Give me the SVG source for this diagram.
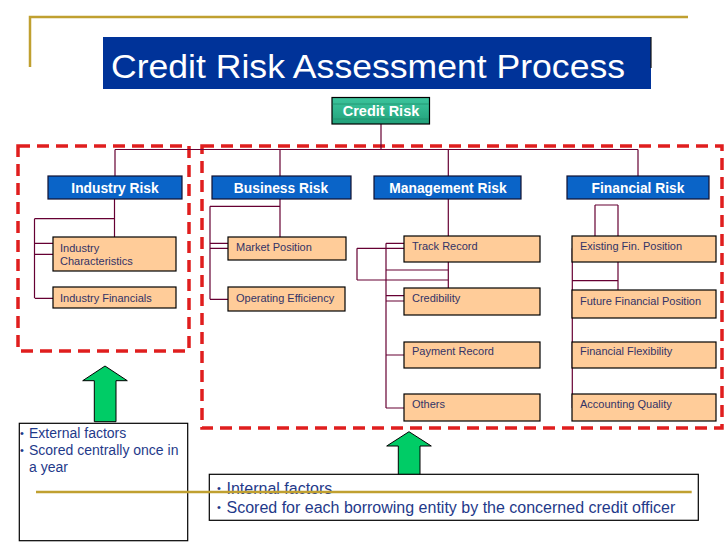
<svg xmlns="http://www.w3.org/2000/svg" width="728" height="546" viewBox="0 0 728 546">
<defs>
<linearGradient id="teal" x1="0" y1="0" x2="0" y2="1">
<stop offset="0" stop-color="#3CC49C"/>
<stop offset="0.5" stop-color="#2FB48C"/>
<stop offset="1" stop-color="#22A07A"/>
</linearGradient>
<style>
.hdr{fill:#0A64C8;stroke:#101030;stroke-width:1.2}
.hdrt{font-family:"Liberation Sans",Arial,sans-serif;font-weight:bold;font-size:13.8px;fill:#FFFFFF;text-anchor:middle}
.sub{fill:#FFCC99;stroke:#000000;stroke-width:1.2}
.subt{font-family:"Liberation Sans",Arial,sans-serif;font-size:11px;fill:#333366}
.con{fill:none;stroke:#660033;stroke-width:1.2}
.dash{fill:none;stroke:#E01E1E;stroke-width:3.5;stroke-dasharray:12 7}
.gold{stroke:#C0A030;stroke-width:2.5;fill:none}
.arrow{fill:#00CC66;stroke:#000000;stroke-width:1}
.note{fill:#FFFFFF;stroke:#000000;stroke-width:1.2}
.nt{font-family:"Liberation Sans",Arial,sans-serif;fill:#1F3A8A}
</style>
</defs>
<rect width="728" height="546" fill="#FFFFFF"/>

<g id="frame">
<path class="gold" d="M30,67 V17 H688"/>
</g>

<g id="title">
<rect x="103" y="37" width="548" height="52" fill="#003399"/>
<line x1="651" y1="37" x2="651" y2="68" stroke="#111111" stroke-width="1.2"/>
<text x="111" y="78" font-family="'Liberation Sans',Arial,sans-serif" font-size="33px" fill="#FFFFFF" textLength="514" lengthAdjust="spacingAndGlyphs">Credit Risk Assessment Process</text>
</g>

<g id="groups">
<rect class="dash" x="18" y="146" width="171" height="205"/>
<rect class="dash" x="202" y="146" width="520" height="282"/>
</g>

<g id="connectors">
<path class="con" d="M381,124 V149.5 M115,149.5 H638 M115,149.5 V176 M280,149.5 V176 M448.3,149.5 V176 M638,149.5 V176"/>
<path class="con" d="M114.5,199 V243.3 M34.5,218.7 H114.5 M35,243.3 H114.5 M34.5,218.7 V298.3 M34.5,254.3 H53 M35,298.3 H53"/>
<path class="con" d="M280,199 V243.3 M210,206.3 H280 M210,206.3 V299.3 M209.5,243.3 H280 M209.5,248.3 H228 M210,299.3 H228"/>
<path class="con" d="M448.3,199 V295.7 M386,243.3 H448.3 M357,248.3 H404 M357,248.3 V280 M357,280 H448.3 M386,270 H448.3 M386,295.7 H448.3 M386,301 H404 M386,243.3 V408 M386,355 H404 M386,408 H404"/>
<path class="con" d="M595,205 H618 M595,205 V253 M618,205 V306 M572,248.3 H595 M572,253 H618 M572,280.7 H618 M572,306 H618 M572.3,248.3 V408"/>
</g>

<g id="credit-risk">
<rect x="332" y="97.5" width="97.5" height="26.5" fill="url(#teal)" stroke="#000000" stroke-width="1.2"/>
<line x1="332.6" y1="104" x2="428.9" y2="104" stroke="#1E8A68" stroke-width="0.7"/>
<line x1="332.6" y1="119" x2="428.9" y2="119" stroke="#1E8A68" stroke-width="0.7"/>
<text x="381" y="116" font-family="'Liberation Sans',Arial,sans-serif" font-weight="bold" font-size="14.5px" fill="#FFFFFF" text-anchor="middle">Credit Risk</text>
</g>

<g id="industry-risk"><rect class="hdr" x="48" y="176" width="134" height="23"/><text class="hdrt" x="115" y="192.5">Industry Risk</text></g>
<g id="business-risk"><rect class="hdr" x="212" y="176" width="139" height="23"/><text class="hdrt" x="281" y="192.5">Business Risk</text></g>
<g id="management-risk"><rect class="hdr" x="374" y="176" width="147" height="23"/><text class="hdrt" x="448" y="192.5">Management Risk</text></g>
<g id="financial-risk"><rect class="hdr" x="567" y="176" width="142" height="23"/><text class="hdrt" x="638" y="192.5">Financial Risk</text></g>

<g id="industry-characteristics"><rect class="sub" x="53" y="237" width="123" height="34"/><text class="subt" x="60" y="252">Industry</text><text class="subt" x="60" y="264.5">Characteristics</text></g>
<g id="industry-financials"><rect class="sub" x="53" y="287" width="123" height="21"/><text class="subt" x="60" y="302">Industry Financials</text></g>

<g id="market-position"><rect class="sub" x="228" y="237" width="118" height="23"/><text class="subt" x="236" y="250.5">Market Position</text></g>
<g id="operating-efficiency"><rect class="sub" x="228" y="287" width="117" height="24"/><text class="subt" x="236" y="302">Operating Efficiency</text></g>

<g id="track-record"><rect class="sub" x="404" y="236" width="136" height="26"/><text class="subt" x="412" y="250">Track Record</text></g>
<g id="credibility"><rect class="sub" x="404" y="288" width="136" height="27"/><text class="subt" x="412" y="302">Credibility</text></g>
<g id="payment-record"><rect class="sub" x="404" y="342" width="136" height="26"/><text class="subt" x="412" y="355">Payment Record</text></g>
<g id="others"><rect class="sub" x="404" y="394" width="136" height="27"/><text class="subt" x="412" y="408">Others</text></g>

<g id="existing-fin-position"><rect class="sub" x="572" y="236" width="144" height="26"/><text class="subt" x="580" y="250">Existing Fin. Position</text></g>
<g id="future-financial-position"><rect class="sub" x="572" y="290" width="144" height="28"/><text class="subt" x="580" y="305">Future Financial Position</text></g>
<g id="financial-flexibility"><rect class="sub" x="572" y="342" width="144" height="26"/><text class="subt" x="580" y="355">Financial Flexibility</text></g>
<g id="accounting-quality"><rect class="sub" x="572" y="394" width="144" height="27"/><text class="subt" x="580" y="408">Accounting Quality</text></g>

<g id="arrow-external">
<polygon class="arrow" points="105,366 127.3,380.7 116,380.7 116,421.7 94.3,421.7 94.3,380.7 82.7,380.7"/>
</g>
<g id="arrow-internal">
<polygon class="arrow" points="409,431.7 431.3,446 420,446 420,486.7 398.3,486.7 398.3,446 386.7,446"/>
</g>

<g id="note-external">
<rect class="note" x="19.3" y="423.3" width="168.4" height="117.4"/>
<text class="nt" font-size="11px" x="20" y="436.7">•</text>
<text class="nt" font-size="14px" x="29" y="437.5">External factors</text>
<text class="nt" font-size="11px" x="20" y="453.5">•</text>
<text class="nt" font-size="14px" x="29" y="454.5">Scored centrally once in</text>
<text class="nt" font-size="14px" x="29" y="471.5">a year</text>
</g>

<g id="note-internal">
<rect class="note" x="209.3" y="474.3" width="489" height="46"/>
<text class="nt" font-size="11px" x="217" y="492">•</text>
<text class="nt" font-size="16px" x="226.5" y="494">Internal factors</text>
<text class="nt" font-size="11px" x="217" y="510.5">•</text>
<text class="nt" font-size="16px" x="226.5" y="512.5">Scored for each borrowing entity by the concerned credit officer</text>
</g>

<g id="bottom-rule">
<line class="gold" x1="36" y1="492" x2="691.7" y2="492"/>
</g>
</svg>
